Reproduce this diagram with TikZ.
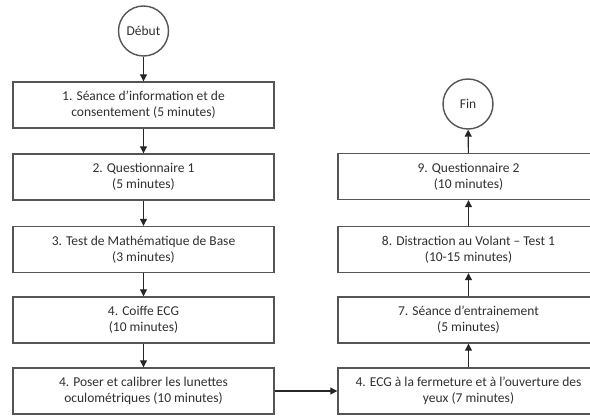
\documentclass[tikz,border=0pt]{standalone}
\usepackage{fontspec}
\setmainfont{Carlito}
\usetikzlibrary{arrows.meta}
\definecolor{txt}{HTML}{303030}
\definecolor{brd}{HTML}{555555}
\tikzset{
  stepbox/.style={draw=brd, line width=1.4pt, fill=white, minimum width=261pt, minimum height=46pt, inner sep=0pt, align=center, text=txt, font=\fontsize{13.5}{16}\selectfont},
  termnode/.style={draw=brd, line width=1.4pt, fill=white, circle, minimum size=50pt, inner sep=0pt, text=txt, font=\fontsize{13.5}{16}\selectfont},
  flow/.style={draw=black!85, line width=1.1pt, -{Triangle[length=7pt,width=7pt]}}
}
\begin{document}
\begin{tikzpicture}[x=1pt,y=-1pt]
\useasboundingbox (0,0) rectangle (590,417);
\clip (0,0) rectangle (590,417);
\fill[white] (0,0) rectangle (590,417);
\node[termnode] (debut) at (143.5,31) {Début};
\node[stepbox] (b1) at (143.5,105) {1. Séance d’information et de\\consentement (5 minutes)};
\node[stepbox] (b2) at (143.5,177) {2. Questionnaire 1\\(5 minutes)};
\node[stepbox] (b3) at (143.5,249.5) {3. Test de Mathématique de Base\\(3 minutes)};
\node[stepbox] (b4) at (143.5,320) {4. Coiffe ECG\\(10 minutes)};
\node[stepbox] (b5) at (143.5,391) {4. Poser et calibrer les lunettes\\oculométriques (10 minutes)};
\node[stepbox] (b6) at (468.5,391) {4. ECG à la fermeture et à l’ouverture des\\yeux (7 minutes)};
\node[stepbox] (b7) at (468.5,320) {7. Séance d’entrainement\\(5 minutes)};
\node[stepbox] (b8) at (468.5,249.5) {8. Distraction au Volant – Test 1\\(10-15 minutes)};
\node[stepbox] (b9) at (468.5,176.5) {9. Questionnaire 2\\(10 minutes)};
\node[termnode] (fin) at (468,104) {Fin};
\draw[flow] (debut) -- (b1);
\draw[flow] (b1) -- (b2);
\draw[flow] (b2) -- (b3);
\draw[flow] (b3) -- (b4);
\draw[flow] (b4) -- (b5);
\draw[flow] (b5) -- (b6);
\draw[flow] (b6) -- (b7);
\draw[flow] (b7) -- (b8);
\draw[flow] (b8) -- (b9);
\draw[flow] (b9) -- (fin);
\end{tikzpicture}
\end{document}
